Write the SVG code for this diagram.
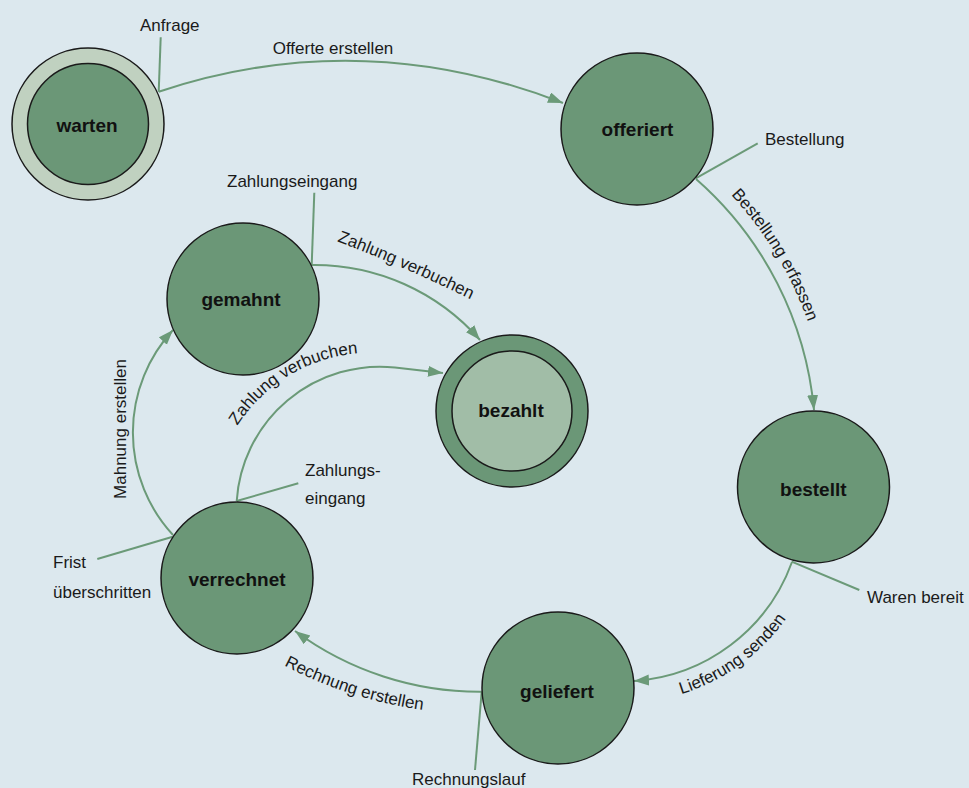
<svg xmlns="http://www.w3.org/2000/svg" xmlns:xlink="http://www.w3.org/1999/xlink" width="969" height="788" viewBox="0 0 969 788">
<style>
.bg{fill:#dce8ee}
.node{fill:#6b9777;stroke:#1a1a1a;stroke-width:1.5}
.ring-light{fill:#c0d1c0;stroke:#1a1a1a;stroke-width:1.5}
.inner-light{fill:#a1bda7;stroke:#1a1a1a;stroke-width:1.5}
.conn{fill:none;stroke:#6b9a78;stroke-width:2}
.trig{fill:none;stroke:#6b9a78;stroke-width:2}
.nl{font-family:"Liberation Sans",Arial,sans-serif;font-weight:bold;font-size:19px;fill:#111;text-anchor:middle}
.lb{font-family:"Liberation Sans",Arial,sans-serif;font-size:17px;fill:#1a1a1a}
.tp{fill:none;stroke:none}
</style>
<defs>
<marker id="arrow" markerUnits="userSpaceOnUse" markerWidth="16" markerHeight="12" refX="15" refY="5.5" orient="auto">
<path d="M0,0 L15,5.5 L0,11 Z" fill="#6b9a78"/>
</marker>
<path id="p-bestellung" class="tp" d="M 730.1 193.9 A 363 363 0 0 1 808.3 323"/>
<path id="p-lieferung" class="tp" d="M 675.7 695.7 A 202 202 0 0 0 789.4 614"/>
<path id="p-rechnung" class="tp" d="M 283 665 Q 350 700 424 710"/>
<path id="p-zahlung1" class="tp" d="M 336 241 Q 396 263 472 300"/>
<path id="p-zahlung2" class="tp" d="M 236.3 427.5 A 158 158 0 0 1 360 353.2"/>
</defs>
<rect class="bg" x="0" y="0" width="969" height="788"/>

<g id="connectors">
<path class="trig" d="M 160.7 37.3 L 158.7 91.7"/>
<path class="conn" d="M 158.7 91.7 Q 361 24.5 563 103" marker-end="url(#arrow)"/>
<path class="trig" d="M 757.7 143.3 L 695.7 178.3"/>
<path class="conn" d="M 696 179 A 350 350 0 0 1 814 410" marker-end="url(#arrow)"/>
<path class="trig" d="M 859.3 590 L 791.7 561.7"/>
<path class="conn" d="M 792 562 A 181 181 0 0 1 634 681" marker-end="url(#arrow)"/>
<path class="trig" d="M 475 770 L 481.7 691.7"/>
<path class="conn" d="M 481.7 691.7 A 311 311 0 0 1 295 631" marker-end="url(#arrow)"/>
<path class="trig" d="M 97.3 559 L 172.7 536.7"/>
<path class="conn" d="M 173 535 A 151 151 0 0 1 173 330" marker-end="url(#arrow)"/>
<path class="trig" d="M 298.3 483.3 L 236.7 501"/>
<path class="conn" d="M 236.7 501 A 143.5 143.5 0 0 1 395 367.5 L 443 373" marker-end="url(#arrow)"/>
<path class="trig" d="M 314.3 192.7 L 311.7 265"/>
<path class="conn" d="M 311.7 265 A 220 220 0 0 1 480 340" marker-end="url(#arrow)"/>
</g>

<g id="connector-labels">
<text class="lb" x="333" y="54" text-anchor="middle">Offerte erstellen</text>
<text class="lb"><textPath xlink:href="#p-bestellung" href="#p-bestellung" startOffset="50%" text-anchor="middle">Bestellung erfassen</textPath></text>
<text class="lb"><textPath xlink:href="#p-lieferung" href="#p-lieferung" startOffset="50%" text-anchor="middle">Lieferung senden</textPath></text>
<text class="lb"><textPath xlink:href="#p-rechnung" href="#p-rechnung" startOffset="50%" text-anchor="middle">Rechnung erstellen</textPath></text>
<text class="lb" transform="translate(126,429) rotate(-90)" text-anchor="middle">Mahnung erstellen</text>
<text class="lb"><textPath xlink:href="#p-zahlung1" href="#p-zahlung1" startOffset="50%" text-anchor="middle">Zahlung verbuchen</textPath></text>
<text class="lb"><textPath xlink:href="#p-zahlung2" href="#p-zahlung2" startOffset="50%" text-anchor="middle">Zahlung verbuchen</textPath></text>
<text class="lb" x="140" y="31">Anfrage</text>
<text class="lb" x="765" y="145">Bestellung</text>
<text class="lb" x="867" y="603">Waren bereit</text>
<text class="lb" x="412" y="785">Rechnungslauf</text>
<text class="lb" x="53" y="568">Frist</text>
<text class="lb" x="53" y="598">überschritten</text>
<text class="lb" x="305" y="476">Zahlungs-</text>
<text class="lb" x="305" y="504">eingang</text>
<text class="lb" x="227" y="187">Zahlungseingang</text>
</g>

<g id="node-warten">
<circle class="ring-light" cx="88" cy="124" r="76"/>
<circle class="node" cx="88" cy="124" r="60.5"/>
<text class="nl" x="87" y="132">warten</text>
</g>
<g id="node-offeriert">
<circle class="node" cx="637" cy="129" r="76"/>
<text class="nl" x="637.5" y="136">offeriert</text>
</g>
<g id="node-bestellt">
<circle class="node" cx="813.5" cy="487" r="76"/>
<text class="nl" x="813.3" y="496">bestellt</text>
</g>
<g id="node-geliefert">
<circle class="node" cx="558" cy="688" r="76"/>
<text class="nl" x="557" y="698">geliefert</text>
</g>
<g id="node-verrechnet">
<circle class="node" cx="237" cy="578" r="76"/>
<text class="nl" x="237" y="586">verrechnet</text>
</g>
<g id="node-gemahnt">
<circle class="node" cx="243" cy="299" r="76"/>
<text class="nl" x="241" y="306">gemahnt</text>
</g>
<g id="node-bezahlt">
<circle class="node" cx="512" cy="411" r="76"/>
<circle class="inner-light" cx="512" cy="411" r="60"/>
<text class="nl" x="511" y="417">bezahlt</text>
</g>
</svg>
